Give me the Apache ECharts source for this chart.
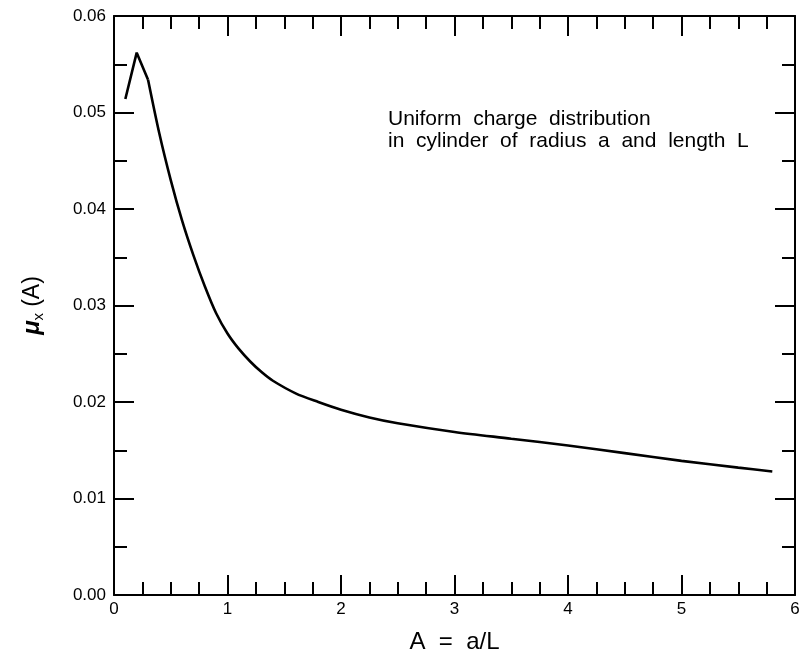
<!DOCTYPE html>
<html>
<head>
<meta charset="utf-8">
<script src="https://cdn.jsdelivr.net/npm/echarts@6/dist/echarts.min.js"></script>
<style>
html,body{margin:0;padding:0;background:#fff;}
#chart{width:803px;height:660px;}
</style>
</head>
<body>
<div id="chart"></div>
<script>
// Data
const aValues = [0.1, 0.2, 0.3, 0.4, 0.5, 0.6, 0.7, 0.8, 0.9, 1.0, 1.1, 1.2, 1.3, 1.4, 1.6, 1.8, 2.0, 2.25, 2.5, 3.0, 3.5, 4.0, 4.5, 5.0, 5.5, 5.8];
const muValues = [0.0514, 0.0562, 0.0534, 0.0478, 0.0430, 0.0388, 0.0352, 0.0320, 0.0292, 0.0271, 0.0255, 0.0242, 0.0231, 0.0222, 0.0209, 0.0200, 0.0192, 0.0184, 0.0178, 0.0169, 0.0162, 0.0155, 0.0147, 0.0139, 0.0132, 0.0128];
const kinkCount = 3; // first points joined by straight segments (sharp peak)
const xTicks = [0, 1, 2, 3, 4, 5, 6];
const yTicks = [0.00, 0.01, 0.02, 0.03, 0.04, 0.05, 0.06];
const annotationLines = ['Uniform  charge  distribution', 'in  cylinder  of  radius  a  and  length  L'];
const xTitle = 'A  =  a/L';

const FONT = '"Liberation Sans", Arial, Helvetica, sans-serif';
const chart = echarts.init(document.getElementById('chart'), null, {renderer: 'canvas'});

const axisLine = {show: true, onZero: false, lineStyle: {color: '#000', width: 2}};
const axisTick = {show: true, inside: true, length: 20, lineStyle: {color: '#000', width: 2}};
const minorX = {show: true, splitNumber: 4, length: 13, lineStyle: {color: '#000', width: 2}};
const minorY = {show: true, splitNumber: 2, length: 13, lineStyle: {color: '#000', width: 2}};

function xAxisBase(pos, showLabel) {
  return {
    type: 'value', position: pos, min: xTicks[0], max: xTicks[xTicks.length - 1], interval: 1,
    axisLine, axisTick, minorTick: minorX, splitLine: {show: false}, minorSplitLine: {show: false},
    axisLabel: {show: showLabel, margin: 6, color: '#000', fontFamily: FONT, fontSize: 17,
      formatter: v => String(Math.round(v))}
  };
}
function yAxisBase(pos, showLabel) {
  return {
    type: 'value', position: pos, min: yTicks[0], max: yTicks[yTicks.length - 1], interval: 0.01,
    axisLine, axisTick, minorTick: minorY, splitLine: {show: false}, minorSplitLine: {show: false},
    axisLabel: {show: showLabel, margin: 8, color: '#000', fontFamily: FONT, fontSize: 17,
      formatter: v => v.toFixed(2)}
  };
}

const xBottom = xAxisBase('bottom', true);
xBottom.name = xTitle;
xBottom.nameLocation = 'middle';
xBottom.nameGap = 35;
xBottom.nameTextStyle = {color: '#000', fontFamily: FONT, fontSize: 24};

const yLeft = yAxisBase('left', true);
yLeft.name = '{mu|μ}{sub|x} {n|(A)}';
yLeft.nameLocation = 'middle';
yLeft.nameGap = 68;
yLeft.nameRotate = 90;
yLeft.nameTextStyle = {
  color: '#000', fontFamily: FONT, fontSize: 22,
  rich: {
    mu: {fontFamily: FONT, fontSize: 24, fontStyle: 'italic', fontWeight: 'bold', color: '#000'},
    sub: {fontFamily: FONT, fontSize: 15, color: '#000', verticalAlign: 'bottom', padding: [12, 0, 0, 0]},
    n: {fontFamily: FONT, fontSize: 23, color: '#000'}
  }
};

const pts = aValues.map((a, i) => [a, muValues[i]]);
const lineStyle = {color: '#000', width: 2.6};

chart.setOption({
  animation: false,
  backgroundColor: '#fff',
  grid: {left: 114, right: 8, top: 16, bottom: 65, containLabel: false},
  xAxis: [xBottom, xAxisBase('top', false)],
  yAxis: [yLeft, yAxisBase('right', false)],
  graphic: [{
    type: 'text', left: 388, top: 108, silent: true,
    style: {text: annotationLines.join('\n'), fill: '#000', font: '21px ' + FONT, lineHeight: 22}
  }],
  series: [{
    type: 'line', xAxisIndex: 0, yAxisIndex: 0, showSymbol: false, smooth: false,
    lineStyle, data: pts.slice(0, kinkCount)
  }, {
    type: 'line', xAxisIndex: 0, yAxisIndex: 0, showSymbol: false, smooth: 0.3,
    lineStyle, data: pts.slice(kinkCount - 1)
  }]
});
</script>
</body>
</html>
